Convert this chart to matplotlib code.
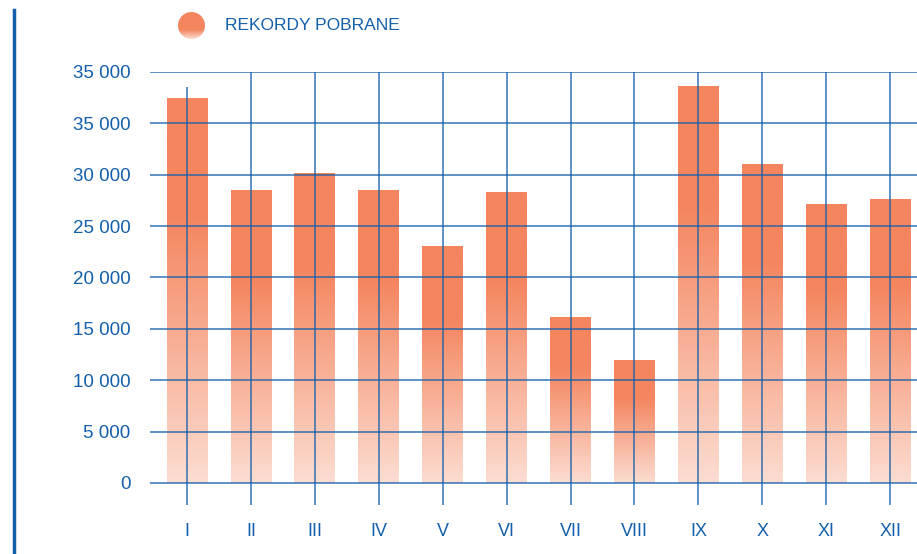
import numpy as np
import matplotlib
matplotlib.use('Agg')
import matplotlib.pyplot as plt
from matplotlib.lines import Line2D
from matplotlib.patches import Circle

plt.rcParams['font.family'] = ['Liberation Sans', 'DejaVu Sans']

# dane
months = ['I', 'II', 'III', 'IV', 'V', 'VI', 'VII', 'VIII', 'IX', 'X', 'XI', 'XII']
records = [37450, 28500, 30150, 28500, 23050, 28300, 16150, 11970, 38620, 31030, 27140, 27630]
y_ticks = [0, 5000, 10000, 15000, 20000, 25000, 30000, 35000, 40000]
y_tick_labels = ['0', '5 000', '10 000', '15 000', '20 000', '25 000', '30 000', '35 000', '35 000']
legend_label = 'REKORDY POBRANE'

blue = '#135fab'
orange = np.array([244, 133, 94]) / 255.0
white = np.array([1.0, 1.0, 1.0])

fig = plt.figure(figsize=(9.17, 5.54), dpi=100)
ax = fig.add_axes([150 / 917, 1 - 505 / 554, 767 / 917, 433 / 554])

# gradient: pelny kolor u gory, blady na dole
def gradient_img(n=200, solid=0.7):
    t = np.linspace(0, 1, n)  # 0 = dol, 1 = gora
    s = np.clip(t / solid, 0, 1)
    a = 0.28 + 0.72 * s
    rgb = white[None, :] * (1 - a[:, None]) + orange[None, :] * a[:, None]
    return rgb[::-1][:, None, :]

img = gradient_img()
bar_w = 0.64
x = np.arange(len(months))
for xi, v in zip(x, records):
    ax.imshow(img, extent=(xi - bar_w / 2, xi + bar_w / 2, 0, v), aspect='auto',
              interpolation='bilinear', zorder=1)

# siatka na wierzchu
ax.hlines(y_ticks, -0.58, 11.42, colors=blue, linewidth=1.2, alpha=0.8, zorder=3)
vtops = [38500] + [40000] * (len(months) - 1)
for xi, top in zip(x, vtops):
    ax.vlines(xi, -2150, top, colors=blue, linewidth=1.2, alpha=0.8, zorder=3)

ax.set_xlim(-0.58, 11.42)
ax.set_ylim(-2150, 40000)
ax.set_yticks(y_ticks)
ax.set_yticklabels(y_tick_labels)
ax.set_xticks(x)
ax.set_xticklabels(months)
ax.tick_params(axis='both', length=0, labelcolor=blue)
ax.tick_params(axis='y', pad=14, labelsize=13.5)
ax.tick_params(axis='x', pad=13, labelsize=13)
for s in ax.spines.values():
    s.set_visible(False)

# pionowa linia po lewej
fig.add_artist(Line2D([14 / 917, 14 / 917], [0, 1 - 10 / 554], color=blue, linewidth=2.5,
                      transform=fig.transFigure))

# legenda
lax = fig.add_axes([178 / 917, 1 - 39 / 554, 27 / 917, 27 / 554])
lax.set_xlim(0, 1)
lax.set_ylim(0, 1)
im = lax.imshow(gradient_img(solid=0.35), extent=(0, 1, 0, 1), aspect='auto', interpolation='bilinear')
circ = Circle((0.5, 0.5), 0.5, transform=lax.transData)
im.set_clip_path(circ)
lax.axis('off')
fig.text(225 / 917, 1 - 25 / 554, legend_label, color=blue, fontsize=12.5, va='center', ha='left')

fig.savefig('out.png', dpi=100)
